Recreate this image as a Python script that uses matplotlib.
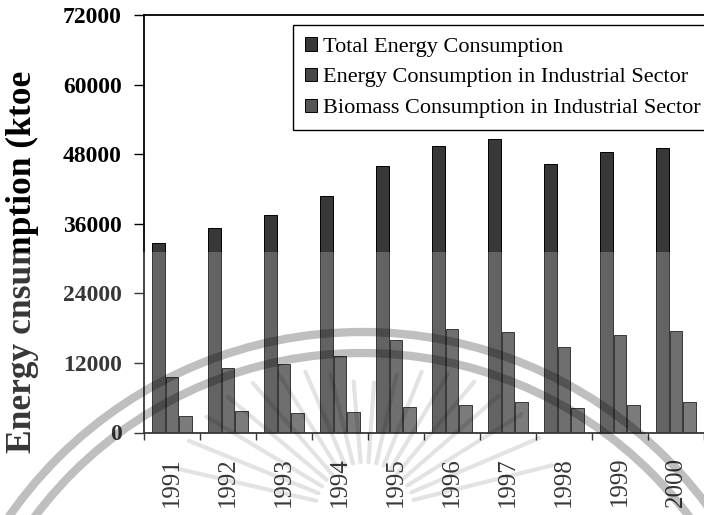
import numpy as np
import matplotlib
matplotlib.use("Agg")
import matplotlib.pyplot as plt
from matplotlib.patches import Arc, Rectangle
from matplotlib.lines import Line2D

plt.rcParams["font.family"] = ["Liberation Serif", "DejaVu Serif"]

# Energy use in ktoe, 1991-2000
years = ["1991", "1992", "1993", "1994", "1995", "1996", "1997", "1998", "1999", "2000"]
total_energy = [32600, 35200, 37500, 40800, 45900, 49400, 50600, 46300, 48400, 49000]
industrial_energy = [9500, 11100, 11800, 13200, 15900, 17800, 17300, 14800, 16800, 17500]
industrial_biomass = [2900, 3700, 3300, 3500, 4400, 4800, 5200, 4300, 4800, 5300]

series_labels = ["Total Energy Consumption",
                 "Energy Consumption in Industrial Sector",
                 "Biomass Consumption in Industrial Sector"]
series_colors = ["#383838", "#474747", "#565656"]

W, H = 704, 515


def px(x, y):
    """Pixel position (origin top-left) -> figure fraction."""
    return x / W, 1 - y / H


fig = plt.figure(figsize=(W / 100, H / 100), dpi=100)
ax = fig.add_axes([144 / W, (H - 432.5) / H, (W - 144) / W, (432.5 - 15) / H])

x = np.arange(len(years))
bar_w = 0.23
offsets = [-0.235, 0.0, 0.24]
for vals, off, color, label in zip([total_energy, industrial_energy, industrial_biomass],
                                   offsets, series_colors, series_labels):
    ax.bar(x + off, vals, width=bar_w, color=color, edgecolor="black",
           linewidth=0.7, label=label)

ax.set_xlim(-0.5, (W - 144) / 57 - 0.5)
ax.set_ylim(0, 72000)
ax.set_yticks(np.arange(0, 72001, 12000))
ax.tick_params(axis="y", direction="out", length=7, width=1, pad=9,
               labelsize=17)
for lbl in ax.get_yticklabels():
    lbl.set_fontweight("bold")

# year labels in the middle of each group, tick marks between groups
ax.set_xticks(x)
ax.set_xticklabels(years, rotation=90, fontsize=18)
ax.set_xticks(np.arange(-0.5, len(years), 1.0), minor=True)
ax.tick_params(axis="x", which="major", length=0, pad=17.5)
ax.tick_params(axis="x", which="minor", direction="out", length=5, width=1)

for side in ["left", "bottom", "top"]:
    ax.spines[side].set_linewidth(1.3)
ax.spines["right"].set_visible(False)

fig.text(22 / W, 1 - 262 / H, "Energy cnsumption (ktoe", rotation=90,
         ha="center", va="center", fontsize=25.5, fontweight="bold")

leg = ax.legend(loc="upper left", bbox_to_anchor=px(293, 25),
                bbox_transform=fig.transFigure, borderaxespad=0,
                fontsize=16, frameon=True, fancybox=False, framealpha=1,
                edgecolor="black", handlelength=0.55, handleheight=0.55,
                handletextpad=0.25, labelspacing=0.5, borderpad=0.55)
leg.get_frame().set_linewidth(1.0)

# lighter band over the lower half of the sheet
fig.add_artist(Rectangle((0, 0), 1, 1 - 252 / H, transform=fig.transFigure,
                         facecolor="white", edgecolor="none", alpha=0.22,
                         zorder=5))

# faint seal stamped over the page
cx, cy = px(362, 762)
for r in [430, 409]:
    fig.add_artist(Arc((cx, cy), 2 * r / W, 2 * r / H, theta1=0, theta2=180,
                       transform=fig.transFigure, color="black", alpha=0.25,
                       lw=6, zorder=6))
for ang in np.arange(14, 170, 9):
    t = np.deg2rad(ang)
    r0, r1 = 50, 125 + 70 * abs(np.cos(t))
    xs = [365 + r0 * np.cos(t), 365 + r1 * np.cos(t)]
    ys = [512 - r0 * np.sin(t), 512 - r1 * np.sin(t)]
    fig.add_artist(Line2D([v / W for v in xs], [1 - v / H for v in ys],
                          transform=fig.transFigure, color="black",
                          alpha=0.11, lw=3, solid_capstyle="round",
                          zorder=6))

fig.savefig("out.png", dpi=100)
